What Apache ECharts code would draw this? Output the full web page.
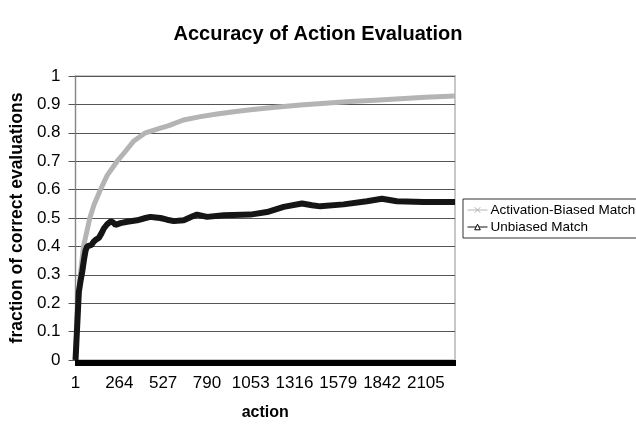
<!DOCTYPE html>
<html>
<head>
<meta charset="utf-8">
<script src="https://cdn.jsdelivr.net/npm/echarts@6/dist/echarts.min.js"></script>
<style>html,body{margin:0;padding:0;background:#fff;}#c{width:636px;height:426px;}</style>
</head>
<body>
<div id="c"></div>
<script>
var actionCount = 2280;
var categories = [];
for (var k = 1; k <= actionCount; k++) categories.push(String(k));

// [category index (0-based), fraction correct]
var activationBiased = [
  [0, 0.0], [10, 0.15], [25, 0.28], [48, 0.40], [86, 0.50], [110, 0.545], [150, 0.60],
  [190, 0.65], [250, 0.70], [300, 0.735], [348, 0.77], [420, 0.80], [500, 0.815],
  [560, 0.825], [648, 0.845], [750, 0.857], [850, 0.866], [950, 0.874], [1050, 0.881],
  [1200, 0.89], [1350, 0.898], [1500, 0.904], [1650, 0.91], [1800, 0.915], [1950, 0.92],
  [2100, 0.925], [2279, 0.93]
];
var unbiased = [
  [0, 0.0], [5, 0.06], [10, 0.12], [15, 0.18], [20, 0.24], [30, 0.278], [40, 0.31],
  [50, 0.35], [60, 0.385], [70, 0.40], [80, 0.40], [95, 0.405], [110, 0.417], [125, 0.425],
  [140, 0.43], [155, 0.445], [170, 0.463], [190, 0.478], [210, 0.488], [225, 0.485],
  [240, 0.476], [270, 0.482], [310, 0.487], [370, 0.492], [420, 0.50], [450, 0.504],
  [480, 0.502], [510, 0.50], [550, 0.494], [590, 0.489], [650, 0.492], [700, 0.505],
  [730, 0.512], [790, 0.504], [890, 0.51], [1050, 0.512], [1150, 0.521], [1250, 0.539],
  [1360, 0.551], [1420, 0.545], [1470, 0.541], [1610, 0.548], [1750, 0.559], [1840, 0.568],
  [1930, 0.559], [2090, 0.556], [2279, 0.556]
];
var seriesNames = ['Activation-Biased Match', 'Unbiased Match'];

var FONT = '"Liberation Sans", Arial, sans-serif';
var chart = echarts.init(document.getElementById('c'), null, {renderer: 'canvas'});
chart.setOption({
  animation: false,
  backgroundColor: '#fff',
  title: {
    text: 'Accuracy of Action Evaluation',
    left: 'center', top: 19,
    textStyle: {fontFamily: FONT, fontSize: 20, fontWeight: 'bold', color: '#000'}
  },
  legend: {
    orient: 'vertical', left: 463, top: 199,
    backgroundColor: '#fff', borderColor: '#333', borderWidth: 1,
    padding: [4, 6, 4, 4], itemGap: 3, itemWidth: 20, itemHeight: 7,
    textStyle: {fontFamily: FONT, fontSize: 13.5, color: '#000', padding: [0, 0, 0, -2]},
    lineStyle: {width: 1},
    data: [
      {name: seriesNames[0], itemStyle: {color: 'none', borderColor: '#b4b4b4', borderWidth: 1}},
      {name: seriesNames[1], itemStyle: {color: '#fff', borderColor: '#000', borderWidth: 1}}
    ]
  },
  grid: {
    left: 75, top: 76, right: 181, bottom: 63,
    show: true, borderColor: '#c8c8c8', borderWidth: 2, backgroundColor: '#fff'
  },
  xAxis: {
    type: 'category', data: categories, boundaryGap: false,
    name: 'action', nameLocation: 'middle', nameGap: 45,
    nameTextStyle: {fontFamily: FONT, fontSize: 16, fontWeight: 'bold', color: '#000'},
    axisLine: {lineStyle: {color: '#000', width: 1}},
    axisTick: {show: true, interval: 0, length: 6, lineStyle: {color: '#000', width: 1}},
    axisLabel: {interval: 262, margin: 15, fontFamily: FONT, fontSize: 17, color: '#000', hideOverlap: false},
    splitLine: {show: false}
  },
  yAxis: {
    type: 'value', min: 0, max: 1, interval: 0.1,
    name: 'fraction of correct evaluations', nameLocation: 'middle', nameGap: 45, nameRotate: 90,
    nameTextStyle: {fontFamily: FONT, fontSize: 17.5, fontWeight: 'bold', color: '#000'},
    axisLine: {show: true, lineStyle: {color: '#888', width: 1}},
    axisTick: {show: true, length: 7, lineStyle: {color: '#555'}},
    axisLabel: {margin: 15, fontFamily: FONT, fontSize: 17, color: '#000'},
    splitLine: {show: true, lineStyle: {color: '#555', width: 1}}
  },
  series: [
    {
      name: seriesNames[0], type: 'line', data: activationBiased,
      showSymbol: false, symbol: 'path://M0,0L10,10M10,0L0,10', symbolSize: 6,
      lineStyle: {color: '#b4b4b4', width: 5}, itemStyle: {color: '#b4b4b4', borderColor: '#b4b4b4'},
      z: 2
    },
    {
      name: seriesNames[1], type: 'line', data: unbiased,
      showSymbol: false, symbol: 'triangle', symbolSize: 6,
      lineStyle: {color: '#151515', width: 6}, itemStyle: {color: '#fff', borderColor: '#151515', borderWidth: 1},
      z: 3
    }
  ]
});
</script>
</body>
</html>
